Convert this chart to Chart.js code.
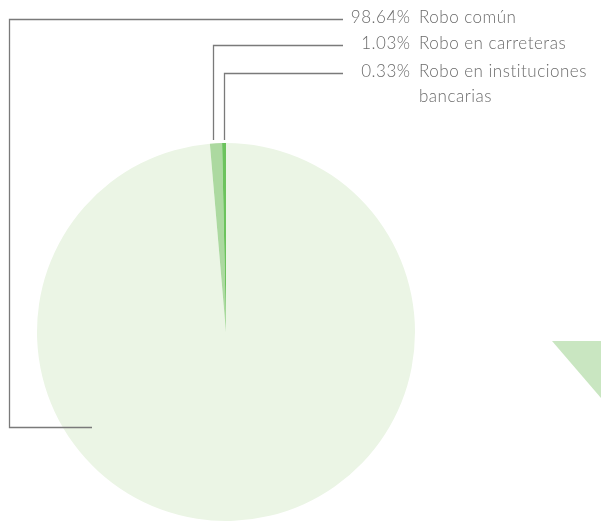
<!DOCTYPE html>
<html><head><meta charset="utf-8">
<script src="https://cdn.jsdelivr.net/npm/chart.js@4"></script>
<style>html,body{margin:0;padding:0;background:#fff;}#wrap{position:relative;width:601px;height:522px;}</style>
</head><body><div id="wrap"><canvas id="c" width="601" height="522"></canvas></div>
<script>
const categories = ["Robo común", "Robo en carreteras", "Robo en instituciones bancarias"];
const values = [98.64, 1.03, 0.33];
const percentLabels = ["98.64%", "1.03%", "0.33%"];
const nameLines = [["Robo común"], ["Robo en carreteras"], ["Robo en instituciones", "bancarias"]];
const colors = ["#ebf5e5", "#acd9a0", "#6cc35d"];

const FONT = '300 17px Lato, "Open Sans", sans-serif';
const annot = {
  id: 'annot',
  afterDraw(chart) {
    const ctx = chart.ctx;
    const arc = chart.getDatasetMeta(0).data[0];
    const cx = arc.x, cy = arc.y, r = arc.outerRadius;
    ctx.save();
    // decorative triangle
    ctx.fillStyle = '#c9e6c1';
    ctx.beginPath(); ctx.moveTo(552, 341); ctx.lineTo(601, 341); ctx.lineTo(601, 398); ctx.closePath(); ctx.fill();
    // leader lines
    ctx.strokeStyle = '#7a7a7a'; ctx.lineWidth = 1.3;
    const rows = [19.5, 45.5, 73.5];
    const lineEnd = 343;
    ctx.beginPath();
    ctx.moveTo(lineEnd, rows[0]); ctx.lineTo(9.5, rows[0]); ctx.lineTo(9.5, 427.5); ctx.lineTo(cx - 134, 427.5);
    ctx.moveTo(lineEnd, rows[1]); ctx.lineTo(213.5, rows[1]); ctx.lineTo(213.5, cy - r - 3);
    ctx.moveTo(lineEnd, rows[2]); ctx.lineTo(224.5, rows[2]); ctx.lineTo(224.5, cy - r - 3);
    ctx.stroke();
    // text
    ctx.font = FONT; ctx.fillStyle = '#6b6b6b'; ctx.textBaseline = 'middle';
    try { ctx.letterSpacing = '0.5px'; } catch (e) {}
    for (let i = 0; i < categories.length; i++) {
      ctx.textAlign = 'right';
      ctx.fillText(percentLabels[i], 410.5, rows[i] - 1.5);
      ctx.textAlign = 'left';
      nameLines[i].forEach((t, j) => ctx.fillText(t, 419, rows[i] - 1.5 + j * 24.5));
    }
    ctx.restore();
  }
};

new Chart(document.getElementById('c'), {
  type: 'pie',
  data: { labels: categories, datasets: [{ data: values, backgroundColor: colors, borderWidth: 0 }] },
  options: {
    responsive: false, animation: false,
    layout: { padding: { left: 37, top: 143, right: 186, bottom: 1 } },
    plugins: { legend: { display: false }, tooltip: { enabled: false } }
  },
  plugins: [annot]
});
</script></body></html>
